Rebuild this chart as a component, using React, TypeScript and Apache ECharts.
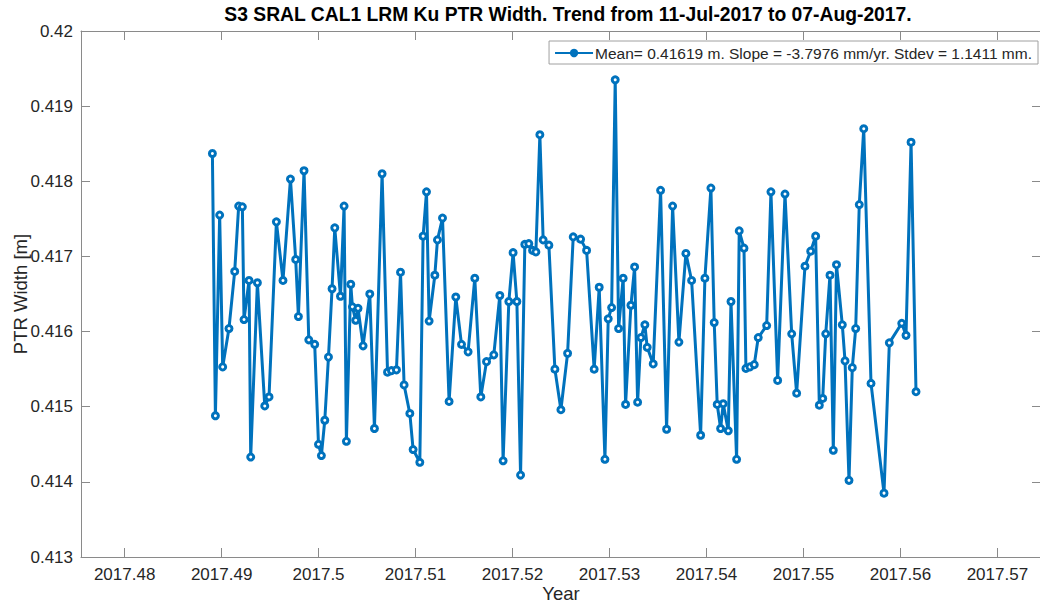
import React, { useEffect, useRef } from "react";
import * as echarts from "echarts";

const years: number[] = [
  2017.48905, 2017.48936, 2017.4898, 2017.49011, 2017.49076, 2017.49135, 2017.49176, 2017.49214, 2017.49231, 2017.49283,
  2017.493, 2017.49369, 2017.49445, 2017.49489, 2017.49565, 2017.49633, 2017.4971, 2017.49764, 2017.49792, 2017.4985,
  2017.49899, 2017.4996, 2017.49999, 2017.50029, 2017.50064, 2017.50102, 2017.50139, 2017.50167, 2017.50226, 2017.50263,
  2017.50287, 2017.50332, 2017.50349, 2017.50383, 2017.50407, 2017.50459, 2017.50528, 2017.50576, 2017.50655, 2017.50711,
  2017.50752, 2017.50803, 2017.50845, 2017.50882, 2017.50941, 2017.50975, 2017.51044, 2017.51078, 2017.51113, 2017.5114,
  2017.51199, 2017.51226, 2017.51278, 2017.51346, 2017.51415, 2017.51474, 2017.51542, 2017.51611, 2017.51673, 2017.51732,
  2017.51807, 2017.51869, 2017.51903, 2017.51962, 2017.52006, 2017.52045, 2017.52083, 2017.52127, 2017.52168, 2017.52207,
  2017.52241, 2017.52282, 2017.52316, 2017.52375, 2017.52437, 2017.52499, 2017.52568, 2017.52626, 2017.52702, 2017.52764,
  2017.52842, 2017.52894, 2017.52953, 2017.52987, 2017.53022, 2017.53059, 2017.53094, 2017.53141, 2017.53166, 2017.53221,
  2017.53259, 2017.5329, 2017.53324, 2017.53365, 2017.53389, 2017.53451, 2017.53527, 2017.53589, 2017.53651, 2017.53716,
  2017.53788, 2017.53847, 2017.5394, 2017.53984, 2017.54046, 2017.5408, 2017.54111, 2017.54146, 2017.54173, 2017.54225,
  2017.54253, 2017.54311, 2017.54338, 2017.54387, 2017.54407, 2017.54449, 2017.54493, 2017.54534, 2017.54621, 2017.54665,
  2017.54734, 2017.5481, 2017.54879, 2017.5493, 2017.55016, 2017.55075, 2017.55126, 2017.55164, 2017.55199, 2017.5523,
  2017.55274, 2017.55308, 2017.55341, 2017.55401, 2017.55429, 2017.5547, 2017.55504, 2017.55539, 2017.55576, 2017.55622,
  2017.55697, 2017.55831, 2017.55886, 2017.56014, 2017.56058, 2017.5611, 2017.56161,
];

const ptrWidth: number[] = [
  0.41837, 0.41488, 0.41755, 0.41553, 0.41604, 0.4168, 0.41767, 0.41766, 0.41616, 0.41668,
  0.41433, 0.41665, 0.41501, 0.41513, 0.41746, 0.41668, 0.41803, 0.41696, 0.4162, 0.41814,
  0.41589, 0.41583, 0.4145, 0.41435, 0.41482, 0.41566, 0.41657, 0.41738, 0.41647, 0.41767,
  0.41454, 0.41663, 0.41633, 0.41615, 0.41631, 0.41581, 0.4165, 0.41471, 0.4181, 0.41546,
  0.41548, 0.41549, 0.41679, 0.41529, 0.41491, 0.41443, 0.41426, 0.41727, 0.41786, 0.41614,
  0.41675, 0.41722, 0.41751, 0.41507, 0.41646, 0.41583, 0.41573, 0.41671, 0.41513, 0.4156,
  0.41569, 0.41648, 0.41428, 0.4164, 0.41705, 0.4164, 0.41409, 0.41716, 0.41717, 0.41708,
  0.41706, 0.41862, 0.41722, 0.41715, 0.4155, 0.41496, 0.41571, 0.41726, 0.41723, 0.41708,
  0.4155, 0.41659, 0.4143, 0.41617, 0.41632, 0.41935, 0.41604, 0.41671, 0.41503, 0.41635,
  0.41686, 0.41506, 0.41592, 0.41609, 0.41579, 0.41557, 0.41788, 0.4147, 0.41767, 0.41586,
  0.41704, 0.41668, 0.41462, 0.41671, 0.41791, 0.41612, 0.41503, 0.41471, 0.41504, 0.41468,
  0.4164, 0.4143, 0.41734, 0.41711, 0.41551, 0.41553, 0.41556, 0.41592, 0.41608, 0.41786,
  0.41535, 0.41783, 0.41597, 0.41518, 0.41687, 0.41707, 0.41727, 0.41502, 0.41511, 0.41597,
  0.41675, 0.41442, 0.41689, 0.41609, 0.41561, 0.41402, 0.41552, 0.41604, 0.41769, 0.4187,
  0.41531, 0.41385, 0.41585, 0.41611, 0.41595, 0.41852, 0.4152,
];

const xTicks: number[] = [2017.48, 2017.49, 2017.5, 2017.51, 2017.52, 2017.53, 2017.54, 2017.55, 2017.56, 2017.57];
const yTicks: number[] = [0.413, 0.414, 0.415, 0.416, 0.417, 0.418, 0.419, 0.42];

const X_MIN = 2017.4755;
const X_MAX = 2017.5745;
const Y_MIN = 0.413;
const Y_MAX = 0.42;

const titleText = "S3 SRAL CAL1 LRM Ku PTR Width. Trend from 11-Jul-2017 to 07-Aug-2017.";
const legendText = "Mean= 0.41619 m. Slope = -3.7976 mm/yr. Stdev = 1.1411 mm.";

const FONT = "'Liberation Sans', Arial, Helvetica, sans-serif";
const BLUE = "#0072BD";
const AXIS_COLOR = "#8a8a8a";
const TEXT_COLOR = "#262626";

export default function App() {
  const ref = useRef<HTMLDivElement>(null);

  useEffect(() => {
    if (!ref.current) return;
    const chart = echarts.init(ref.current, null, { renderer: "svg" });

    const points = years.map((y, i) => [y, ptrWidth[i]]);

    const axisLineStyle = { lineStyle: { color: AXIS_COLOR, width: 1 } };
    const tickStyle = (vals: number[]) => ({
      show: true,
      inside: true,
      length: 9,
      customValues: vals,
      lineStyle: { color: AXIS_COLOR, width: 1 },
    });

    chart.setOption({
      animation: false,
      backgroundColor: "#ffffff",
      title: {
        text: titleText,
        left: 563,
        top: 0,
        textAlign: "center",
        textStyle: { fontFamily: FONT, fontSize: 19.3, fontWeight: "bold", color: "#000" },
      },
      legend: {
        right: 2,
        top: 41,
        orient: "horizontal",
        backgroundColor: "#fff",
        borderColor: "#a0a0a0",
        borderWidth: 1,
        borderRadius: 0,
        padding: [4, 6, 3, 5],
        itemWidth: 38,
        itemHeight: 8,
        itemGap: 0,
        data: [{ name: legendText, itemStyle: { color: BLUE, borderColor: BLUE } }],
        textStyle: { fontFamily: FONT, fontSize: 15.5, color: TEXT_COLOR, padding: [0, 0, 0, -3] },
      },
      grid: {
        left: 81,
        right: -1,
        top: 31,
        bottom: 50,
        outerBoundsMode: "none",
        containLabel: false,
      },
      xAxis: [
        {
          type: "value",
          min: X_MIN,
          max: X_MAX,
          position: "bottom",
          name: "Year",
          nameLocation: "middle",
          nameGap: 27,
          nameMoveOverlap: false,
          nameTextStyle: { fontFamily: FONT, fontSize: 18.5, color: TEXT_COLOR },
          axisLine: { show: true, ...axisLineStyle },
          axisTick: tickStyle(xTicks),
          axisLabel: {
            customValues: xTicks,
            margin: 9,
            fontFamily: FONT,
            fontSize: 17,
            color: TEXT_COLOR,
            formatter: (v: number) => String(+v.toFixed(2)),
          },
          splitLine: { show: false },
        },
        {
          type: "value",
          min: X_MIN,
          max: X_MAX,
          position: "top",
          axisLine: { show: true, ...axisLineStyle },
          axisTick: tickStyle(xTicks),
          axisLabel: { show: false },
          splitLine: { show: false },
        },
      ],
      yAxis: [
        {
          type: "value",
          min: Y_MIN,
          max: Y_MAX,
          position: "left",
          name: "PTR Width [m]",
          nameLocation: "middle",
          nameGap: 51,
          nameMoveOverlap: false,
          nameTextStyle: { fontFamily: FONT, fontSize: 18.5, color: TEXT_COLOR },
          axisLine: { show: true, ...axisLineStyle },
          axisTick: tickStyle(yTicks),
          axisLabel: {
            customValues: yTicks,
            margin: 8,
            fontFamily: FONT,
            fontSize: 17,
            color: TEXT_COLOR,
            formatter: (v: number) => String(+v.toFixed(3)),
          },
          splitLine: { show: false },
        },
        {
          type: "value",
          min: Y_MIN,
          max: Y_MAX,
          position: "right",
          axisLine: { show: true, ...axisLineStyle },
          axisTick: tickStyle(yTicks),
          axisLabel: { show: false },
          splitLine: { show: false },
        },
      ],
      series: [
        {
          name: legendText,
          type: "line",
          xAxisIndex: 0,
          yAxisIndex: 0,
          data: points,
          symbol: "circle",
          symbolSize: 6,
          showSymbol: true,
          lineStyle: { color: BLUE, width: 3 },
          itemStyle: { color: "#ffffff", borderColor: BLUE, borderWidth: 3 },
          emphasis: { disabled: true },
        },
      ],
    });

    return () => chart.dispose();
  }, []);

  return (
    <div
      ref={ref}
      style={{ position: "absolute", left: 0, top: 0, width: 1040, height: 607, background: "#fff" }}
    />
  );
}
